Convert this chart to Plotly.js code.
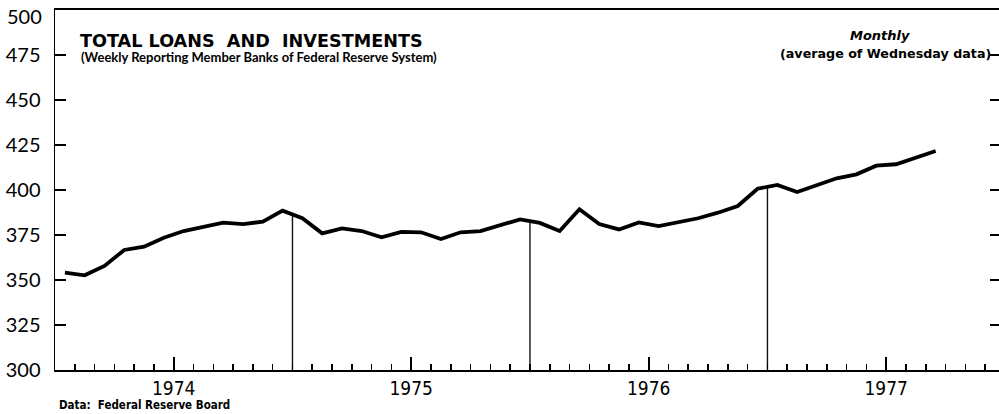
<!DOCTYPE html>
<html><head><meta charset="utf-8">
<script src="https://cdn.plot.ly/plotly-3.0.1.min.js"></script>
<style>html,body{margin:0;padding:0;overflow:hidden;background:#fff}</style>
</head><body><div id="chart"></div>
<script>
// Monthly observations, Jan 1974 - Sep 1977 (billions of dollars)
const months = [
  "Jan 1974","Feb 1974","Mar 1974","Apr 1974","May 1974","Jun 1974","Jul 1974","Aug 1974","Sep 1974","Oct 1974","Nov 1974","Dec 1974",
  "Jan 1975","Feb 1975","Mar 1975","Apr 1975","May 1975","Jun 1975","Jul 1975","Aug 1975","Sep 1975","Oct 1975","Nov 1975","Dec 1975",
  "Jan 1976","Feb 1976","Mar 1976","Apr 1976","May 1976","Jun 1976","Jul 1976","Aug 1976","Sep 1976","Oct 1976","Nov 1976","Dec 1976",
  "Jan 1977","Feb 1977","Mar 1977","Apr 1977","May 1977","Jun 1977","Jul 1977","Aug 1977","Sep 1977"
];
const loans = [
  354.1, 352.6, 357.8, 366.7, 368.5, 373.5, 377.2, 379.6, 381.9, 381.1, 382.4, 388.5,
  384.3, 375.9, 378.7, 377.2, 373.7, 376.7, 376.5, 372.8, 376.5, 377.2, 380.2, 383.7,
  381.7, 377.2, 389.3, 381.1, 378.1, 382.0, 380.0, 381.9, 384.3, 387.4, 391.1, 400.7,
  402.8, 398.9, 402.8, 406.5, 408.7, 413.5, 414.3, 418.1, 421.7
];
const yearLabels = ["1974", "1975", "1976", "1977"];
const yTickVals = [300, 325, 350, 375, 400, 425, 450, 475];
const yTopLabel = "500";

const titleText = "TOTAL LOANS  AND  INVESTMENTS";
const subtitleText = "(Weekly Reporting Member Banks of Federal Reserve System)";
const freqText = "Monthly";
const freqSubText = "(average of Wednesday data)";
const sourceText = "Data:  Federal Reserve Board";

// month index axis: 0 = 1 Jan 1974; points at mid-month
const xs = months.map((m, i) => i + 0.5);
const yearMid = yearLabels.map((y, i) => i * 12 + 6);

// layout geometry (pixels)
const W = 1004, H = 414;
const mL = 55, mR = 3, mT = 10, mB = 44;
const plotW = W - mL - mR, plotH = H - mT - mB;
const pxPerMonth = 19.79;
const xMax = plotW / pxPerMonth;
const px = v => (v - mL) / plotW;
const py = v => (H - mB - v) / plotH;

const traces = [];
// year boundary verticals, rising from the axis up to the data line
for (let k = 1; k < yearLabels.length; k++) {
  const b = k * 12;
  const yv = (loans[b - 1] + loans[b]) / 2;
  traces.push({
    x: [b, b], y: [300, yv], type: "scatter", mode: "lines",
    line: {color: "#111", width: 1.4}, hoverinfo: "skip", showlegend: false
  });
}
traces.push({
  x: xs, y: loans, text: months, type: "scatter", mode: "lines",
  line: {color: "#000", width: 3.8, shape: "linear"},
  hovertemplate: "%{text}: %{y}<extra></extra>", showlegend: false
});

const layout = {
  width: W, height: H,
  margin: {l: mL, r: mR, t: mT, b: mB},
  paper_bgcolor: "#fff", plot_bgcolor: "#fff",
  showlegend: false,
  xaxis: {
    range: [0, xMax], showgrid: false, zeroline: false,
    showline: true, linecolor: "#000", linewidth: 2, mirror: true,
    tickmode: "array", tickvals: yearMid, ticktext: yearLabels,
    ticks: "inside", ticklen: 13, tickwidth: 1.6, tickcolor: "#000",
    ticklabelstandoff: 0,
    tickfont: {family: "DejaVu Sans Condensed", size: 19, color: "#000"},
    minor: {tickmode: "linear", tick0: 0, dtick: 1, ticks: "inside", ticklen: 6, tickwidth: 1.6, tickcolor: "#000", showgrid: false}
  },
  yaxis: {
    range: [300, 500], showgrid: false, zeroline: false,
    showline: true, linecolor: "#000", linewidth: 1.5, mirror: "ticks",
    tickmode: "array", tickvals: yTickVals,
    ticks: "inside", ticklen: 11, tickwidth: 1.6, tickcolor: "#000",
    ticklabelstandoff: 9,
    tickfont: {family: "Lato", size: 20, color: "#000"}
  },
  annotations: [
    {text: yTopLabel, xref: "paper", yref: "paper", x: px(44), y: py(16),
     xanchor: "right", yanchor: "middle", showarrow: false,
     font: {family: "Lato", size: 20, color: "#000"}},
    {text: "<b>" + titleText + "</b>", xref: "paper", yref: "paper", x: px(78), y: py(41),
     xanchor: "left", yanchor: "middle", showarrow: false,
     font: {family: "DejaVu Sans", size: 17.6, color: "#000"}},
    {text: "<b>" + subtitleText + "</b>", xref: "paper", yref: "paper", x: px(79), y: py(57),
     xanchor: "left", yanchor: "middle", showarrow: false,
     font: {family: "Lato", size: 13, color: "#000"}},
    {text: "<b><i>" + freqText + "</i></b>", xref: "paper", yref: "paper", x: px(848), y: py(36),
     xanchor: "left", yanchor: "middle", showarrow: false,
     font: {family: "DejaVu Sans", size: 13, color: "#000"}},
    {text: "<b>" + freqSubText + "</b>", xref: "paper", yref: "paper", x: px(993), y: py(53),
     xanchor: "right", yanchor: "middle", showarrow: false,
     font: {family: "DejaVu Sans", size: 12.7, color: "#000"}},
    {text: "<b>" + sourceText + "</b>", xref: "paper", yref: "paper", x: px(57), y: py(405),
     xanchor: "left", yanchor: "middle", showarrow: false,
     font: {family: "DejaVu Sans Condensed", size: 11.5, color: "#000"}}
  ]
};

Plotly.newPlot("chart", traces, layout, {displayModeBar: false, staticPlot: true});
</script>
</body></html>
